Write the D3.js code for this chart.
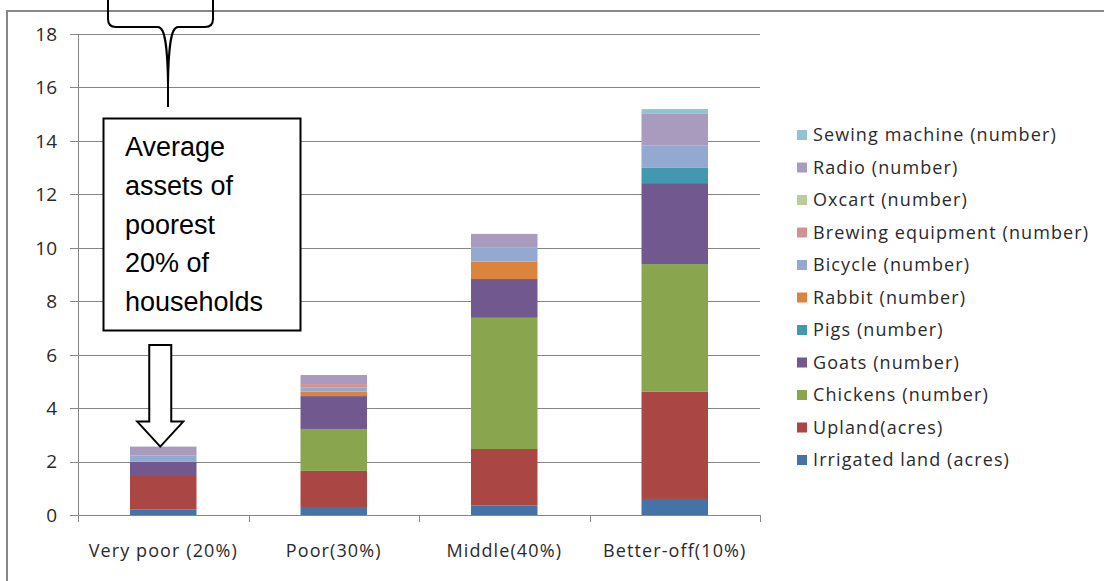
<!DOCTYPE html>
<html>
<head>
<meta charset="utf-8">
<script src="https://cdn.jsdelivr.net/npm/d3@7"></script>
<style>
  html, body { margin: 0; padding: 0; background: #fff; }
  svg { display: block; }
  .axis-label { font-family: "Open Sans", "Lato", sans-serif; fill: #2a2a2a; }
  .wide { letter-spacing: 1.1px; }
  .callout { font-family: "Liberation Sans", Arial, sans-serif; fill: #000; }
</style>
</head>
<body>
<svg id="chart" width="1104" height="581"></svg>
<script>
// Household wealth groups
const categories = ["Very poor (20%)", "Poor(30%)", "Middle(40%)", "Better-off(10%)"];

// Asset series, bottom of the stack first
const seriesNames = [
  "Irrigated land (acres)",
  "Upland(acres)",
  "Chickens (number)",
  "Goats (number)",
  "Pigs (number)",
  "Rabbit (number)",
  "Bicycle (number)",
  "Brewing equipment (number)",
  "Oxcart (number)",
  "Radio (number)",
  "Sewing machine (number)"
];

// Average holdings per group (one array per asset, in category order)
const irrigatedLand = [0.20, 0.30, 0.35, 0.60];
const upland        = [1.26, 1.35, 2.12, 4.01];
const chickens      = [0.00, 1.57, 4.91, 4.78];
const goats         = [0.54, 1.23, 1.45, 3.03];
const pigs          = [0.00, 0.00, 0.00, 0.57];
const rabbit        = [0.00, 0.17, 0.65, 0.00];
const bicycle       = [0.23, 0.16, 0.52, 0.83];
const brewing       = [0.00, 0.12, 0.00, 0.00];
const oxcart        = [0.00, 0.00, 0.00, 0.00];
const radio         = [0.33, 0.34, 0.52, 1.19];
const sewingMachine = [0.00, 0.00, 0.00, 0.18];

const seriesValues = [irrigatedLand, upland, chickens, goats, pigs, rabbit,
                      bicycle, brewing, oxcart, radio, sewingMachine];

const seriesColors = ["#4572A7", "#AA4643", "#89A54E", "#71588F", "#4198AF",
                      "#DB843D", "#93A9CF", "#D19392", "#B9CD96", "#A99BBD", "#91C3D5"];

const yTicks = [0, 2, 4, 6, 8, 10, 12, 14, 16, 18];

const calloutLines = ["Average", "assets of", "poorest", "20% of", "households"];

// Build rows for d3.stack
const rows = categories.map((c, i) => {
  const r = { category: c };
  seriesNames.forEach((s, k) => { r[s] = seriesValues[k][i]; });
  return r;
});
const stacked = d3.stack().keys(seriesNames)(rows);

const svg = d3.select("#chart");

// Chart-area frame
svg.append("path")
  .attr("d", "M7,581 V11 H1104")
  .attr("fill", "none")
  .attr("stroke", "#878787")
  .attr("stroke-width", 2);

const plot = { left: 78, right: 760, top: 34, bottom: 515 };

const x = d3.scaleBand()
  .domain(categories)
  .range([plot.left, plot.right])
  .paddingInner(0.61)
  .paddingOuter(0.305);

const y = d3.scaleLinear()
  .domain([0, 18])
  .range([plot.bottom, plot.top]);

// Horizontal gridlines with left tick marks
svg.append("g")
  .selectAll("line")
  .data(yTicks)
  .join("line")
  .attr("x1", plot.left - 8)
  .attr("x2", plot.right)
  .attr("y1", d => Math.round(y(d)) + 0.5)
  .attr("y2", d => Math.round(y(d)) + 0.5)
  .attr("stroke", "#868686")
  .attr("stroke-width", 1);

// Y axis line
svg.append("line")
  .attr("x1", plot.left + 0.5).attr("x2", plot.left + 0.5)
  .attr("y1", y(18)).attr("y2", y(0))
  .attr("stroke", "#868686");

// Category separators below the baseline
const step = (plot.right - plot.left) / categories.length;
svg.append("g")
  .selectAll("line")
  .data(d3.range(categories.length + 1))
  .join("line")
  .attr("x1", d => Math.round(plot.left + d * step) + 0.5)
  .attr("x2", d => Math.round(plot.left + d * step) + 0.5)
  .attr("y1", y(0))
  .attr("y2", y(0) + 7)
  .attr("stroke", "#868686");

// Y tick labels
svg.append("g")
  .selectAll("text")
  .data(yTicks)
  .join("text")
  .attr("class", "axis-label")
  .attr("x", 57)
  .attr("y", d => y(d))
  .attr("dy", "0.36em")
  .attr("text-anchor", "end")
  .attr("font-size", 19)
  .text(d => d);

// X category labels
svg.append("g")
  .selectAll("text")
  .data(categories)
  .join("text")
  .attr("class", "axis-label wide")
  .attr("x", d => x(d) + x.bandwidth() / 2)
  .attr("y", 557)
  .attr("text-anchor", "middle")
  .attr("font-size", 18)
  .text(d => d);

// Stacked bars
svg.append("g")
  .selectAll("g")
  .data(stacked)
  .join("g")
  .attr("fill", (d, i) => seriesColors[i])
  .selectAll("rect")
  .data(d => d.map(p => ({ p, cat: p.data.category })))
  .join("rect")
  .attr("x", d => x(d.cat))
  .attr("width", x.bandwidth())
  .attr("y", d => y(d.p[1]))
  .attr("height", d => Math.max(0, y(d.p[0]) - y(d.p[1])));

// Legend, top entry is the last series
const legendItems = seriesNames.map((s, i) => ({ name: s, color: seriesColors[i] })).reverse();
const legend = svg.append("g")
  .selectAll("g")
  .data(legendItems)
  .join("g")
  .attr("transform", (d, i) => `translate(797, ${135 + i * 32.5})`);
legend.append("rect")
  .attr("x", 0).attr("y", -5)
  .attr("width", 10).attr("height", 10)
  .attr("fill", d => d.color);
legend.append("text")
  .attr("class", "axis-label wide")
  .attr("x", 16)
  .attr("y", 0)
  .attr("dy", "0.36em")
  .attr("font-size", 18)
  .text(d => d.name);

// Brace-shaped callout coming down from above the chart
svg.append("path")
  .attr("d", "M108,0 V19 Q108,27 116,27 H158 C165,27 167.5,45 168,85 V107 M168,85 C168.5,45 171,27 178,27 H205 Q213,27 213,19 V0")
  .attr("fill", "none")
  .attr("stroke", "#000")
  .attr("stroke-width", 2);

// Text box
svg.append("rect")
  .attr("x", 103.5).attr("y", 118.5)
  .attr("width", 197).attr("height", 212)
  .attr("fill", "#fff")
  .attr("stroke", "#000")
  .attr("stroke-width", 2);

svg.append("g")
  .selectAll("text")
  .data(calloutLines)
  .join("text")
  .attr("class", "callout")
  .attr("x", 125)
  .attr("y", (d, i) => 156 + i * 38.8)
  .attr("font-size", 27)
  .text(d => d);

// Block arrow pointing at the top of the first bar
const firstTotal = d3.sum(seriesValues, v => v[0]);
const tipX = x(categories[0]) + x.bandwidth() / 2 - 3;
const tipY = y(firstTotal);
const arrow = d3.path();
arrow.moveTo(tipX - 11, 345);
arrow.lineTo(tipX + 11, 345);
arrow.lineTo(tipX + 11, tipY - 25);
arrow.lineTo(tipX + 23, tipY - 25);
arrow.lineTo(tipX, tipY);
arrow.lineTo(tipX - 23, tipY - 25);
arrow.lineTo(tipX - 11, tipY - 25);
arrow.closePath();
svg.append("path")
  .attr("d", arrow.toString())
  .attr("fill", "#fff")
  .attr("stroke", "#000")
  .attr("stroke-width", 2)
  .attr("stroke-linejoin", "miter");
</script>
</body>
</html>
